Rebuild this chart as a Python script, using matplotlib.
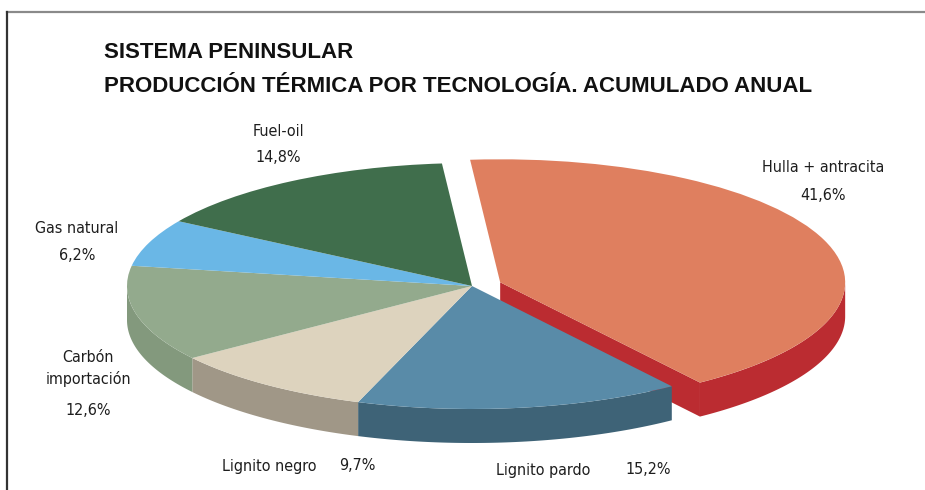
import matplotlib.pyplot as plt
import numpy as np
from matplotlib.patches import Polygon
from matplotlib.lines import Line2D

plt.rcParams['font.family'] = ['DejaVu Sans']
plt.rcParams['font.stretch'] = 'condensed'

tecnologias = ["Hulla + antracita", "Lignito pardo", "Lignito negro",
               "Carbón importación", "Gas natural", "Fuel-oil"]
porcentajes = [41.6, 15.2, 9.7, 12.6, 6.2, 14.8]
colores_top = ["#DF7F5F", "#598BA8", "#DDD3BE", "#93AA8D", "#6AB7E6", "#406E4C"]
colores_lado = ["#BB2C31", "#3E6377", "#A09787", "#83997D", "#5A9CC4", "#345C3F"]
separacion = [0.087, 0, 0, 0, 0, 0]

W, H = 925, 490
CX, CY, RX, RY = 472, 286, 345, 123   # pie centre / radii in pixels
DEPTH = 34 / RY                       # wall height in pie units

fig = plt.figure(figsize=(W / 100, H / 100), dpi=100)
ax = fig.add_axes([0, 0, 1, 1])

wedges, _ = ax.pie(porcentajes, colors=colores_top, startangle=95,
                   counterclock=False, explode=separacion,
                   wedgeprops=dict(linewidth=0, zorder=3))

# squash the pie into an ellipse
ax.set_aspect('auto')
ax.set_xlim(-CX / RX, (W - CX) / RX)
ax.set_ylim((CY - H) / RY, CY / RY)
ax.axis('off')


def arc_wall(cx, cy, r, a, b):
    t = np.radians(np.linspace(a, b, 80))
    top = np.column_stack([cx + r * np.cos(t), cy + r * np.sin(t)])
    bot = top.copy()
    bot[:, 1] -= DEPTH
    return np.vstack([top, bot[::-1]])


for w, lado, exp in zip(wedges, colores_lado, separacion):
    cx, cy = w.center
    r = w.r
    z = 1 if exp else 2
    # outer wall: only the front half of the ellipse is visible
    for k in range(-2, 3):
        a = max(w.theta1, 180 + 360 * k)
        b = min(w.theta2, 360 + 360 * k)
        if b > a:
            ax.add_patch(Polygon(arc_wall(cx, cy, r, a, b), closed=True,
                                 facecolor=lado, edgecolor='none', zorder=z))
    # lower cut face of the exploded slice
    if exp:
        th = np.radians(w.theta1)
        tx, ty = cx + r * np.cos(th), cy + r * np.sin(th)
        pts = [(cx, cy), (tx, ty), (tx, ty - DEPTH), (cx, cy - DEPTH)]
        ax.add_patch(Polygon(pts, closed=True, facecolor=lado,
                             edgecolor='none', zorder=1))


def px(x, y):
    return x / W, 1 - y / H


# frame
fig.add_artist(Line2D([7 / W, 1], [1 - 12 / H] * 2, color="#8A8A8A", lw=1.6))
fig.add_artist(Line2D([7 / W] * 2, [0, 1 - 12 / H], color="#333333", lw=1.6))

tit = dict(fontsize=16, fontweight='bold', family='Liberation Sans',
           fontstretch='normal', ha='left', va='baseline', color="#111111")
fig.text(*px(104, 58), "SISTEMA PENINSULAR", **tit)
fig.text(*px(104, 92), "PRODUCCIÓN TÉRMICA POR TECNOLOGÍA. ACUMULADO ANUAL", **tit)

lab = dict(fontsize=11.5, color="#1E1E1E", ha='center', va='center')
fig.text(*px(278, 131), tecnologias[5], **lab)
fig.text(*px(278, 158), "14,8%", **lab)
fig.text(*px(823, 168), tecnologias[0], **lab)
fig.text(*px(823, 195), "41,6%", **lab)
fig.text(*px(77, 228), tecnologias[4], **lab)
fig.text(*px(77, 255), "6,2%", **lab)
fig.text(*px(88, 357), "Carbón", **lab)
fig.text(*px(88, 379), "importación", **lab)
fig.text(*px(88, 410), "12,6%", **lab)
fig.text(*px(269, 466), tecnologias[2], **lab)
fig.text(*px(357, 465), "9,7%", **lab)
fig.text(*px(543, 470), tecnologias[1], **lab)
fig.text(*px(648, 469), "15,2%", **lab)

fig.savefig("out.png", dpi=100)
